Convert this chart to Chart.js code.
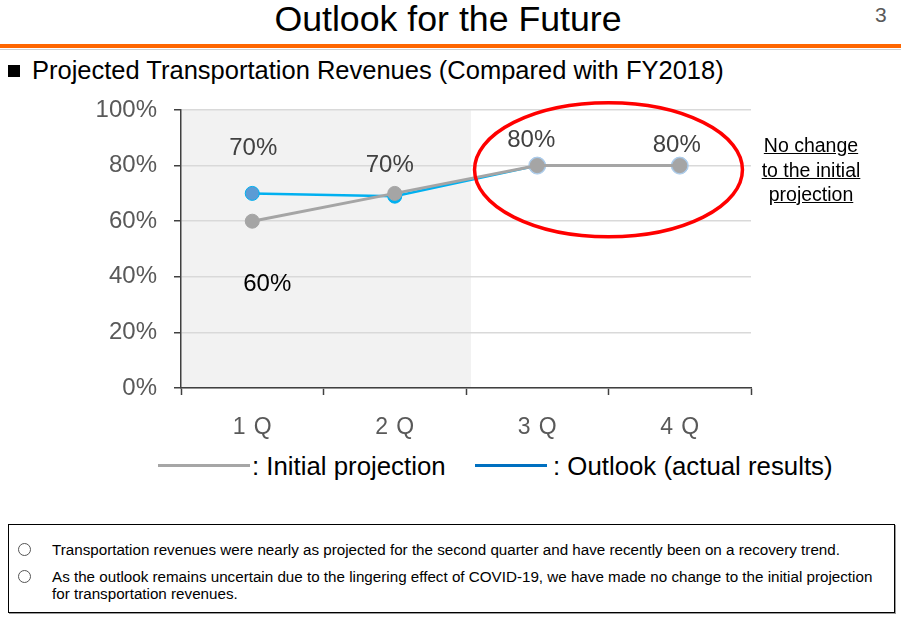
<!DOCTYPE html>
<html>
<head>
<meta charset="utf-8">
<script src="https://cdn.jsdelivr.net/npm/chart.js@4.4.0/dist/chart.umd.min.js"></script>
<style>
  html,body{margin:0;padding:0;background:#fff;}
  body{width:901px;height:633px;position:relative;overflow:hidden;font-family:"Liberation Sans",Arial,sans-serif;}
  .abs{position:absolute;white-space:nowrap;}
  #title{left:0;width:896px;top:0;text-align:center;font-size:35.7px;line-height:38px;color:#000;}
  #pnum{left:875px;top:3px;font-size:21px;color:#595959;}
  #orange{left:0;top:44px;width:901px;height:4px;background:#ff6600;}
  #grayline{left:0;top:49px;width:901px;height:1px;background:#d0d0d0;}
  #sub{left:8px;top:55px;font-size:25.5px;line-height:30px;color:#000;}
  #sub .sq{display:inline-block;width:12px;height:12px;background:#000;margin-right:12px;vertical-align:2px;}
  #chartbox{left:0;top:0;width:901px;height:445px;}
  .legline{position:absolute;height:3px;}
  .legtxt{font-size:25.8px;color:#000;line-height:28px;}
  #note{left:751px;top:133px;width:120px;text-align:center;font-size:19.5px;line-height:24.5px;color:#000;text-decoration:underline;}
  #box{left:8px;top:524px;width:885px;height:87px;border:1px solid #000;box-shadow:1px 1px 0 #9a9a9a;}
  .bl{position:absolute;font-size:15.2px;line-height:17px;color:#000;white-space:nowrap;}
  .circ{position:absolute;width:11px;height:11px;border:1px solid #555;border-radius:50%;}
</style>
</head>
<body>
<div id="title" class="abs">Outlook for the Future</div>
<div id="pnum" class="abs">3</div>
<div id="orange" class="abs"></div>
<div id="grayline" class="abs"></div>
<div id="sub" class="abs"><span class="sq"></span>Projected Transportation Revenues (Compared with FY2018)</div>
<div id="chartbox" class="abs"><canvas id="c"></canvas></div>
<div id="note" class="abs">No change<br>to the initial<br>projection</div>
<div class="legline" style="left:158px;top:464px;width:92px;background:#a6a6a6;"></div>
<div class="abs legtxt" style="left:252px;top:452px;">: Initial projection</div>
<div class="legline" style="left:475px;top:464px;width:72px;background:#0070c0;"></div>
<div class="abs legtxt" style="left:553px;top:452px;">: Outlook (actual results)</div>
<div id="box" class="abs">
  <div class="circ" style="left:9px;top:18px;"></div>
  <div class="bl" style="left:43px;top:16px;">Transportation revenues were nearly as projected for the second quarter and have recently been on a recovery trend.</div>
  <div class="circ" style="left:9px;top:45px;"></div>
  <div class="bl" style="left:43px;top:43px;">As the outlook remains uncertain due to the lingering effect of COVID-19, we have made no change to the initial projection</div>
  <div class="bl" style="left:43px;top:60px;">for transportation revenues.</div>
</div>
<script>
const categories = ['1Q', '2Q', '3Q', '4Q'];
const initialProjection = [60, 70, 80, 80];
const outlookActual = [70, 69, 80, 80];
const yTicks = [0, 20, 40, 60, 80, 100];
const initialLabels = ['60%', '70%', '80%', '80%'];
const outlookLabels = ['70%', null, null, null];

const shadePlugin = {
  id: 'shade',
  beforeDraw(chart) {
    const {ctx, chartArea} = chart;
    const x = chart.scales.x;
    const boundary = (x.getPixelForValue(1) + x.getPixelForValue(2)) / 2 + 5;
    ctx.save();
    ctx.fillStyle = '#f2f2f2';
    ctx.fillRect(chartArea.left, chartArea.top, boundary - chartArea.left, chartArea.bottom - chartArea.top);
    ctx.restore();
  }
};

const labelPlugin = {
  id: 'vlabels',
  afterDatasetsDraw(chart) {
    const {ctx} = chart;
    const x = chart.scales.x, y = chart.scales.y;
    ctx.save();
    ctx.font = '24px "Liberation Sans", Arial, sans-serif';
    ctx.textAlign = 'center';
    ctx.textBaseline = 'middle';
    const initOff = [[15, 63, '#000000'], [-5, -28, '#404040'], [-6, -25, '#404040'], [-3, -20, '#404040']];
    initialLabels.forEach((t, i) => {
      if (!t) return;
      const o = initOff[i];
      ctx.fillStyle = o[2];
      ctx.fillText(t, x.getPixelForValue(i) + o[0], y.getPixelForValue(initialProjection[i]) + o[1]);
    });
    outlookLabels.forEach((t, i) => {
      if (!t) return;
      ctx.fillStyle = '#404040';
      ctx.fillText(t, x.getPixelForValue(i) + 1, y.getPixelForValue(outlookActual[i]) - 45);
    });
    ctx.restore();
  }
};

const ellipsePlugin = {
  id: 'ellipse',
  afterDraw(chart) {
    const {ctx} = chart;
    const x = chart.scales.x, y = chart.scales.y;
    const cx = (x.getPixelForValue(2) + x.getPixelForValue(3)) / 2;
    const cy = y.getPixelForValue(78.5);
    const w = x.getPixelForValue(3) - x.getPixelForValue(2);
    ctx.save();
    ctx.strokeStyle = '#ff0000';
    ctx.lineWidth = 3.5;
    ctx.beginPath();
    ctx.ellipse(cx, cy, w * 0.94, 67, 0, 0, Math.PI * 2);
    ctx.stroke();
    ctx.restore();
  }
};

new Chart(document.getElementById('c'), {
  type: 'line',
  data: {
    labels: categories,
    datasets: [
      {
        label: 'Initial projection',
        data: initialProjection,
        borderColor: '#a5a5a5',
        backgroundColor: '#a5a5a5',
        borderWidth: 3,
        pointRadius: 7,
        pointBackgroundColor: '#a5a5a5',
        pointBorderColor: '#a5a5a5',
        pointBorderWidth: 1,
        tension: 0
      },
      {
        label: 'Outlook (actual results)',
        data: outlookActual,
        borderColor: '#00b0f0',
        backgroundColor: '#5b9bd5',
        borderWidth: 2.5,
        pointRadius: [7, 7, 8.5, 8.5],
        pointBackgroundColor: ['#5b9bd5', '#00b0f0', '#a9c9e8', '#a9c9e8'],
        pointBorderColor: ['#00b0f0', '#00b0f0', '#a9c9e8', '#a9c9e8'],
        pointBorderWidth: 1,
        tension: 0
      }
    ]
  },
  options: {
    responsive: true,
    maintainAspectRatio: false,
    animation: false,
    events: [],
    layout: {padding: {top: 110, right: 150, left: 0, bottom: 0}},
    plugins: {legend: {display: false}, tooltip: {enabled: false}},
    scales: {
      x: {
        offset: true,
        afterFit(s) { s.height = 57; },
        grid: {offset: true, drawOnChartArea: false, drawTicks: true, tickLength: 7, tickColor: '#404040', tickWidth: 1.5},
        border: {display: true, color: '#404040', width: 1.5},
        ticks: {
          padding: 19,
          color: '#595959',
          font: {size: 23, family: '"Liberation Sans", Arial, sans-serif'},
          callback(v, i) { return categories[i].split('').join(' \u200A'); }
        }
      },
      y: {
        min: 0,
        max: 100,
        afterFit(s) { s.width = 181; },
        afterBuildTicks(s) { s.ticks = yTicks.map(v => ({value: v})); },
        grid: {color: '#d9d9d9', lineWidth: 1.5, drawTicks: true, tickLength: 7, tickColor: '#404040'},
        border: {display: true, color: '#404040', width: 1.5},
        ticks: {
          padding: 17,
          color: '#595959',
          font: {size: 24, family: '"Liberation Sans", Arial, sans-serif'},
          callback(v) { return v + '%'; }
        }
      }
    }
  },
  plugins: [shadePlugin, labelPlugin, ellipsePlugin]
});
</script>
</body>
</html>
